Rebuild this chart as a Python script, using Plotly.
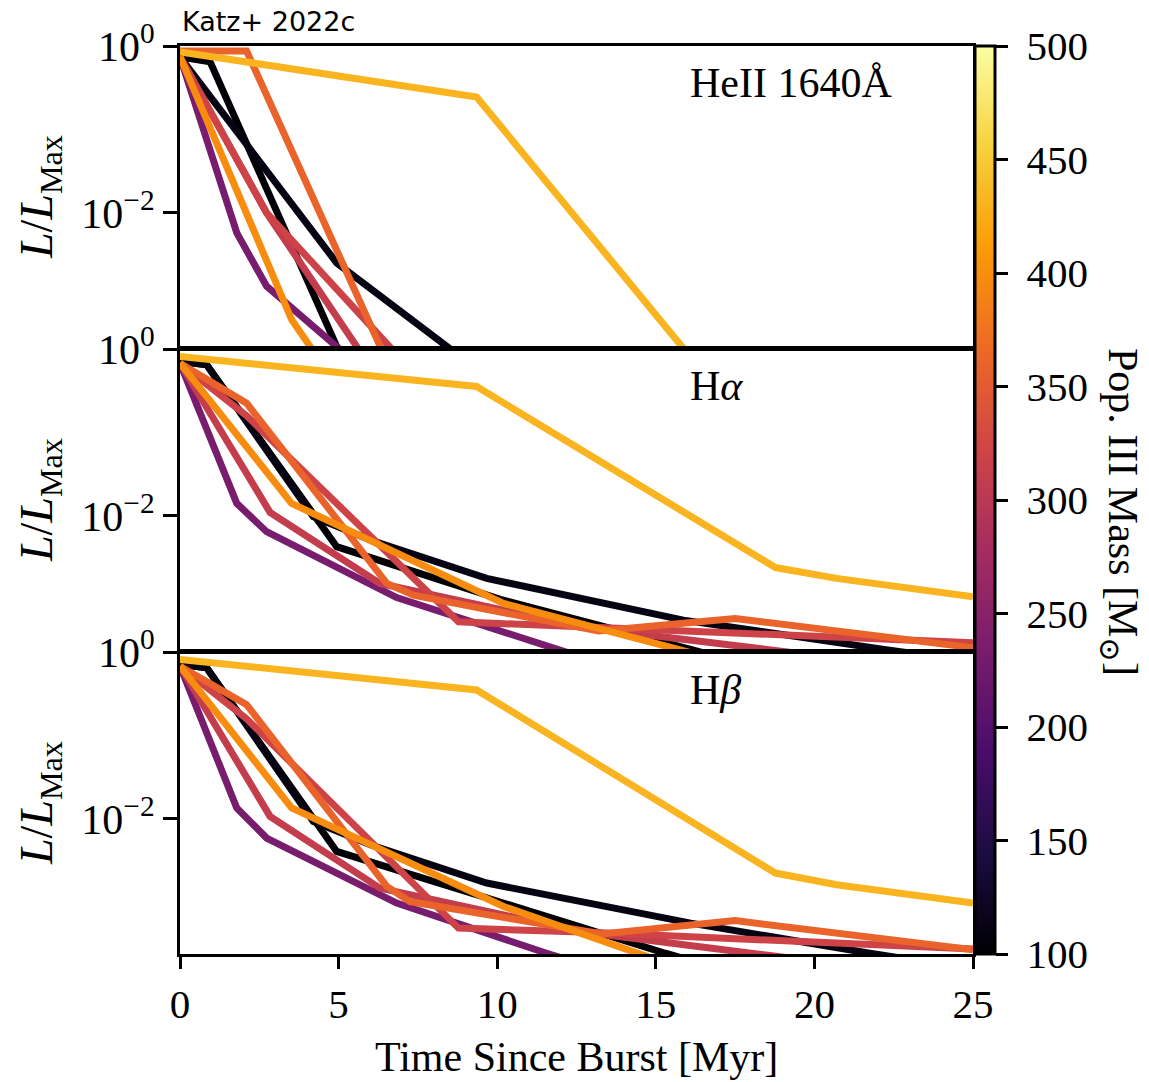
import plotly.graph_objects as go
from plotly.colors import sample_colorscale

# Pop. III stellar masses [Msun] of the modelled populations
masses = [100, 110, 233, 310, 320, 360, 398, 432]

# HeII 1640A: time since burst [Myr] and L/L_max
heii_t_100 = [0, 0.95, 4.94, 5.5]
heii_l_100 = [0.741, 0.646, 2.51e-4, 8.3e-5]
heii_t_110 = [0, 4.94, 8.41, 9.5]
heii_l_110 = [0.741, 2.51e-3, 2.51e-4, 1.2e-4]
heii_t_233 = [0, 1.79, 2.73, 4.94, 5.3]
heii_l_233 = [0.741, 5.75e-3, 1.32e-3, 2.51e-4, 1.9e-4]
heii_t_310 = [0, 2.73, 5.57, 6.0]
heii_l_310 = [0.741, 1.0e-2, 2.51e-4, 1.41e-4]
heii_t_320 = [0, 2.73, 6.6, 7.2]
heii_l_320 = [0.741, 1.0e-2, 2.51e-4, 1.41e-4]
heii_t_360 = [0, 2.1, 6.31, 6.8]
heii_l_360 = [0.871, 0.871, 2.51e-4, 1.0e-4]
heii_t_398 = [0, 3.52, 4.1, 4.6]
heii_l_398 = [0.741, 5.25e-4, 2.51e-4, 1.3e-4]
heii_t_432 = [0, 9.35, 15.86, 17.0]
heii_l_432 = [0.851, 0.245, 2.4e-4, 7.1e-5]

# H-alpha
ha_t_100 = [0, 0.84, 4.94, 10.1, 16.1, 18]
ha_l_100 = [0.708, 0.646, 4.27e-3, 1.0e-3, 2.51e-4, 1.6e-4]
ha_t_110 = [0, 0.84, 4.2, 6.0, 9.67, 15.87, 22.2, 25]
ha_l_110 = [0.708, 0.646, 9.77e-3, 5.13e-3, 1.78e-3, 5.62e-4, 2.51e-4, 1.78e-4]
ha_t_233 = [0, 1.79, 2.73, 6.83, 11.9, 14]
ha_l_233 = [0.676, 1.41e-2, 6.46e-3, 1.05e-3, 2.51e-4, 1.41e-4]
ha_t_310 = [0, 2.84, 6.3, 12.6, 18.5, 21]
ha_l_310 = [0.676, 1.10e-2, 1.55e-3, 4.68e-4, 2.51e-4, 1.91e-4]
ha_t_320 = [0, 2.1, 8.78, 12.9, 25]
ha_l_320 = [0.676, 0.158, 5.37e-4, 4.68e-4, 3.02e-4]
ha_t_360 = [0, 2.1, 6.52, 7.36, 13.2, 17.5, 25]
ha_l_360 = [0.676, 0.224, 1.55e-3, 1.12e-3, 4.17e-4, 5.89e-4, 2.63e-4]
ha_t_398 = [0, 3.52, 10.2, 15.66, 17.5]
ha_l_398 = [0.676, 1.41e-2, 8.91e-4, 2.51e-4, 1.66e-4]
ha_t_432 = [0, 9.35, 18.77, 20.7, 25]
ha_l_432 = [0.813, 0.355, 2.40e-3, 1.78e-3, 1.07e-3]

# H-beta
hb_t_100 = [0, 0.84, 4.94, 10.1, 15.3, 18]
hb_l_100 = [0.708, 0.646, 4.07e-3, 1.0e-3, 2.45e-4, 1.26e-4]
hb_t_110 = [0, 0.84, 4.2, 6.0, 9.67, 16.1, 21.75, 25]
hb_l_110 = [0.708, 0.646, 9.33e-3, 4.90e-3, 1.70e-3, 5.62e-4, 2.45e-4, 1.58e-4]
hb_t_233 = [0, 1.79, 2.73, 6.83, 11.56, 14]
hb_l_233 = [0.676, 1.35e-2, 5.89e-3, 9.77e-4, 2.45e-4, 1.26e-4]
hb_t_310 = [0, 2.84, 6.3, 12.6, 18.0, 21]
hb_l_310 = [0.676, 1.07e-2, 1.48e-3, 4.47e-4, 2.45e-4, 1.78e-4]
hb_t_320 = [0, 2.1, 8.78, 12.9, 25]
hb_l_320 = [0.676, 0.158, 4.90e-4, 4.37e-4, 2.75e-4]
hb_t_360 = [0, 2.1, 6.52, 7.25, 13.3, 17.5, 25]
hb_l_360 = [0.676, 0.234, 1.55e-3, 1.02e-3, 4.17e-4, 6.03e-4, 2.69e-4]
hb_t_398 = [0, 3.52, 10.2, 14.4, 17]
hb_l_398 = [0.676, 1.35e-2, 8.91e-4, 2.45e-4, 1.12e-4]
hb_t_432 = [0, 9.35, 18.77, 20.7, 25]
hb_l_432 = [0.813, 0.351, 2.24e-3, 1.62e-3, 9.77e-4]

line_labels = ["HeII 1640Å", "H<i>α</i>", "H<i>β</i>"]
x_ticks = [0, 5, 10, 15, 20, 25]
cbar_ticks = [100, 150, 200, 250, 300, 350, 400, 450, 500]
mass_min, mass_max = 100, 500

panels = [
    [(heii_t_100, heii_l_100), (heii_t_110, heii_l_110), (heii_t_233, heii_l_233),
     (heii_t_310, heii_l_310), (heii_t_320, heii_l_320), (heii_t_360, heii_l_360),
     (heii_t_398, heii_l_398), (heii_t_432, heii_l_432)],
    [(ha_t_100, ha_l_100), (ha_t_110, ha_l_110), (ha_t_233, ha_l_233),
     (ha_t_310, ha_l_310), (ha_t_320, ha_l_320), (ha_t_360, ha_l_360),
     (ha_t_398, ha_l_398), (ha_t_432, ha_l_432)],
    [(hb_t_100, hb_l_100), (hb_t_110, hb_l_110), (hb_t_233, hb_l_233),
     (hb_t_310, hb_l_310), (hb_t_320, hb_l_320), (hb_t_360, hb_l_360),
     (hb_t_398, hb_l_398), (hb_t_432, hb_l_432)],
]

W, H = 1149, 1082
SERIF = "Liberation Serif, DejaVu Serif, serif"
FS = 41
FS_LABEL = 42


def px_x(p):
    return p / W


def px_y(p):
    return 1 - p / H


x_dom = [px_x(180), px_x(973)]
y_doms = [[px_y(348), px_y(46)], [px_y(651), px_y(349)], [px_y(954), px_y(652)]]

colors = [sample_colorscale("Inferno", [(m - mass_min) / (mass_max - mass_min)])[0]
          for m in masses]

fig = go.Figure()

for i, series in enumerate(panels):
    ax = "" if i == 0 else str(i + 1)
    for (t, lum), c in zip(series, colors):
        fig.add_trace(go.Scatter(
            x=t, y=lum, mode="lines",
            line=dict(color=c, width=7),
            xaxis="x" + ax, yaxis="y" + ax,
            showlegend=False, hoverinfo="skip",
        ))

# colour scale for the population masses
fig.add_trace(go.Scatter(
    x=[None], y=[None], mode="markers", showlegend=False, hoverinfo="skip",
    marker=dict(
        color=masses, colorscale="Inferno", cmin=mass_min, cmax=mass_max,
        showscale=True,
        colorbar=dict(
            x=px_x(975), xanchor="left", xpad=0, ypad=0,
            y=px_y(500), yanchor="middle",
            len=908, lenmode="pixels", thickness=20, thicknessmode="pixels",
            outlinewidth=3, outlinecolor="black",
            tickmode="array", tickvals=cbar_ticks,
            ticktext=["\u00a0" + str(v) for v in cbar_ticks],
            ticks="outside", ticklen=12, tickwidth=3, tickcolor="black",
            tickfont=dict(family=SERIF, size=FS, color="black"),
        ),
    ),
))

layout = dict(
    width=W, height=H,
    margin=dict(l=0, r=0, t=0, b=0, autoexpand=False),
    paper_bgcolor="white", plot_bgcolor="white",
    showlegend=False,
)

for i in range(3):
    ax = "" if i == 0 else str(i + 1)
    bottom = i == 2
    layout["xaxis" + ax] = dict(
        domain=x_dom, range=[0, 25], anchor="y" + ax,
        showgrid=False, zeroline=False,
        showline=True, linewidth=3, linecolor="black", mirror=True,
        tickmode="array", tickvals=x_ticks,
        ticks="outside" if bottom else "", ticklen=12, tickwidth=3, tickcolor="black",
        showticklabels=bottom, automargin=False,
        tickfont=dict(family=SERIF, size=FS, color="black"),
    )
    layout["yaxis" + ax] = dict(
        domain=y_doms[i], type="log", range=[-3.62, 0], anchor="x" + ax,
        showgrid=False, zeroline=False,
        showline=True, linewidth=3, linecolor="black", mirror=True,
        tickmode="array", tickvals=[1, 0.01],
        ticktext=["10<sup>0</sup>", "10<sup>−2</sup>"],
        ticks="outside", ticklen=14, tickwidth=3, tickcolor="black",
        automargin=False,
        tickfont=dict(family=SERIF, size=42, color="black"),
    )

fig.update_layout(**layout)

annotations = []
label_y = [83, 386, 690]
panel_mid = [197, 500, 803]
for i in range(3):
    annotations.append(dict(
        text=line_labels[i], x=px_x(688), y=px_y(label_y[i]),
        xref="paper", yref="paper", xanchor="left", yanchor="middle",
        showarrow=False, font=dict(family=SERIF, size=FS_LABEL, color="black"),
    ))
    annotations.append(dict(
        text="<i>L</i>/<i>L</i><sub>Max</sub>", x=px_x(40), y=px_y(panel_mid[i]),
        xref="paper", yref="paper", xanchor="center", yanchor="middle",
        textangle=-90, showarrow=False,
        font=dict(family=SERIF, size=46, color="black"),
    ))

annotations.append(dict(
    text="Time Since Burst [Myr]", x=px_x(576), y=px_y(1057),
    xref="paper", yref="paper", xanchor="center", yanchor="middle",
    showarrow=False, font=dict(family=SERIF, size=FS_LABEL, color="black"),
))
annotations.append(dict(
    text="Pop. III Mass [M<sub>⊙</sub>]", x=px_x(1120), y=px_y(512),
    xref="paper", yref="paper", xanchor="center", yanchor="middle",
    textangle=90, showarrow=False,
    font=dict(family=SERIF, size=42, color="black"),
))
annotations.append(dict(
    text="Katz+ 2022c", x=px_x(180), y=px_y(21),
    xref="paper", yref="paper", xanchor="left", yanchor="middle",
    showarrow=False, font=dict(family="DejaVu Sans, sans-serif", size=27, color="black"),
))

fig.update_layout(annotations=annotations)

fig.write_html("out.html")
